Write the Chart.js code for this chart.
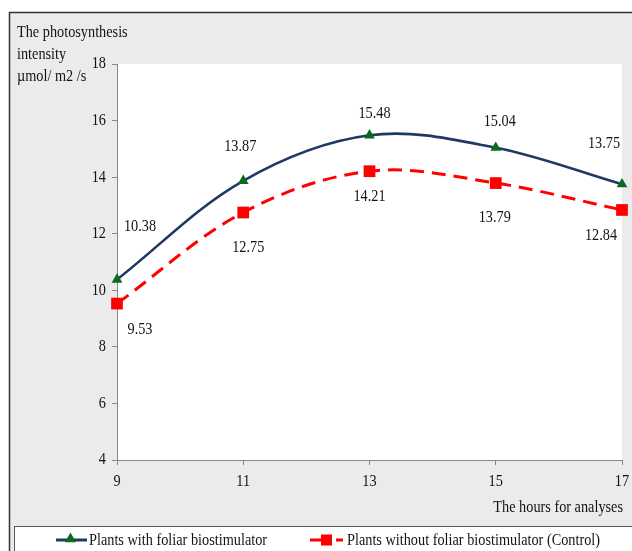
<!DOCTYPE html>
<html>
<head>
<meta charset="utf-8">
<script src="https://cdn.jsdelivr.net/npm/chart.js@4/dist/chart.umd.min.js"></script>
<style>
  html, body { margin: 0; padding: 0; background: #fff; }
  #wrap { width: 632px; height: 551px; }
</style>
</head>
<body>
<div id="wrap"><canvas id="c" width="632" height="551"></canvas></div>
<script>
// Hours of measurement and photosynthesis intensity (µmol/ m2 /s)
const hours = [9, 11, 13, 15, 17];
const withBiostimulator = [10.38, 13.87, 15.48, 15.04, 13.75];
const withoutBiostimulator = [9.53, 12.75, 14.21, 13.79, 12.84];

const seriesNames = ['Plants with foliar biostimulator', 'Plants without foliar biostimulator (Control)'];
const yTitleLines = ['The photosynthesis', 'intensity', 'µmol/ m2 /s'];
const xTitle = 'The hours for analyses';

// Value label placement relative to each point (dx, dy)
const labelOffsetsWith = [[23, -53], [-3, -34], [5, -22], [4, -26], [-18, -41]];
const labelOffsetsWithout = [[23, 26], [5, 35], [0, 25], [-1, 34], [-21, 26]];

const FONT = '17px "Liberation Serif", "Times New Roman", serif';
const TEXT_SQUEEZE = 0.84;
const TEXT_COLOR = '#141414';
const NAVY = '#1f3864';
const GREEN = '#0b6a1e';
const RED = '#ff0000';

function drawText(ctx, str, x, y, align) {
  ctx.save();
  ctx.translate(x, y);
  ctx.scale(TEXT_SQUEEZE, 1);
  ctx.font = FONT;
  ctx.fillStyle = TEXT_COLOR;
  ctx.textAlign = align;
  ctx.textBaseline = 'middle';
  ctx.fillText(str, 0, 0);
  ctx.restore();
}

function triangle(ctx, x, y, r, color) {
  ctx.save();
  ctx.fillStyle = color;
  ctx.beginPath();
  ctx.moveTo(x, y - r);
  ctx.lineTo(x + r * 0.866, y + r * 0.5);
  ctx.lineTo(x - r * 0.866, y + r * 0.5);
  ctx.closePath();
  ctx.fill();
  ctx.restore();
}

const framePlugin = {
  id: 'frame',
  beforeDraw(chart) {
    const { ctx, chartArea: a } = chart;
    ctx.save();
    ctx.fillStyle = '#ffffff';
    ctx.fillRect(0, 0, chart.width, chart.height);
    ctx.fillStyle = '#ebebeb';
    ctx.fillRect(9, 12, chart.width, chart.height);
    ctx.strokeStyle = '#333333';
    ctx.lineWidth = 1.5;
    ctx.beginPath();
    ctx.moveTo(9.5, chart.height + 2);
    ctx.lineTo(9.5, 12.5);
    ctx.lineTo(chart.width + 2, 12.5);
    ctx.stroke();
    ctx.fillStyle = '#ffffff';
    ctx.fillRect(a.left, a.top, a.right - a.left, a.bottom - a.top);
    ctx.restore();
  },
  afterDraw(chart) {
    const { ctx } = chart;
    const xs = chart.scales.x, ys = chart.scales.y;

    // axis tick labels
    ys.ticks.forEach(t => drawText(ctx, String(t.value), 106, ys.getPixelForValue(t.value), 'right'));
    xs.ticks.forEach(t => drawText(ctx, String(t.value), xs.getPixelForValue(t.value), 482, 'center'));

    // axis titles
    yTitleLines.forEach((s, i) => drawText(ctx, s, 17, 33 + i * 22, 'left'));
    drawText(ctx, xTitle, 623, 508, 'right');

    // value labels
    const sets = [[withBiostimulator, labelOffsetsWith], [withoutBiostimulator, labelOffsetsWithout]];
    sets.forEach(([vals, offs], di) => {
      const meta = chart.getDatasetMeta(di);
      meta.data.forEach((pt, i) => {
        drawText(ctx, vals[i].toFixed(2), pt.x + offs[i][0], pt.y + offs[i][1], 'center');
      });
    });

    // legend
    ctx.save();
    ctx.fillStyle = '#ffffff';
    ctx.fillRect(14, 526, chart.width, 40);
    ctx.strokeStyle = '#555555';
    ctx.lineWidth = 1;
    ctx.strokeRect(14.5, 526.5, chart.width + 10, 40);
    const ly = 540;
    ctx.strokeStyle = NAVY;
    ctx.lineWidth = 3;
    ctx.beginPath();
    ctx.moveTo(56, ly);
    ctx.lineTo(87, ly);
    ctx.stroke();
    triangle(ctx, 70.5, ly - 1, 6.5, GREEN);

    ctx.fillStyle = RED;
    ctx.fillRect(310, ly - 1.5, 12, 3);
    ctx.fillRect(321, ly - 5.5, 11, 11);
    ctx.fillRect(336, ly - 1.5, 7, 3);
    ctx.restore();
    drawText(ctx, seriesNames[0], 89, ly + 1, 'left');
    drawText(ctx, seriesNames[1], 347, ly + 1, 'left');
  }
};

const axisGrid = {
  drawOnChartArea: false,
  drawTicks: true,
  tickLength: 5,
  color: '#8a8a8a',
  lineWidth: 1
};

new Chart(document.getElementById('c'), {
  type: 'line',
  data: {
    datasets: [
      {
        label: seriesNames[0],
        data: hours.map((h, i) => ({ x: h, y: withBiostimulator[i] })),
        borderColor: NAVY,
        borderWidth: 2.6,
        tension: 0.35,
        pointStyle: 'triangle',
        pointRadius: 6.2,
        pointBackgroundColor: GREEN,
        pointBorderColor: GREEN,
        pointBorderWidth: 0,
        clip: false,
        order: 1
      },
      {
        label: seriesNames[1],
        data: hours.map((h, i) => ({ x: h, y: withoutBiostimulator[i] })),
        borderColor: RED,
        borderWidth: 3,
        borderDash: [14, 8],
        tension: 0.35,
        pointStyle: 'rect',
        pointRadius: 8.3,
        pointBackgroundColor: RED,
        pointBorderColor: RED,
        pointBorderWidth: 0,
        clip: false,
        order: 2
      }
    ]
  },
  options: {
    responsive: false,
    animation: false,
    devicePixelRatio: 1,
    layout: { padding: { top: 64, right: 10, bottom: 0, left: 0 } },
    plugins: {
      legend: { display: false },
      tooltip: { enabled: false }
    },
    scales: {
      x: {
        type: 'linear',
        min: 9,
        max: 17,
        ticks: { stepSize: 2, color: 'transparent', font: { size: 10 } },
        grid: axisGrid,
        border: { color: '#8a8a8a', width: 1 },
        afterFit(scale) { scale.height = 91; }
      },
      y: {
        min: 4,
        max: 18,
        ticks: { stepSize: 2, color: 'transparent', font: { size: 10 } },
        grid: axisGrid,
        border: { color: '#8a8a8a', width: 1 },
        afterFit(scale) { scale.width = 117; }
      }
    }
  },
  plugins: [framePlugin]
});
</script>
</body>
</html>
